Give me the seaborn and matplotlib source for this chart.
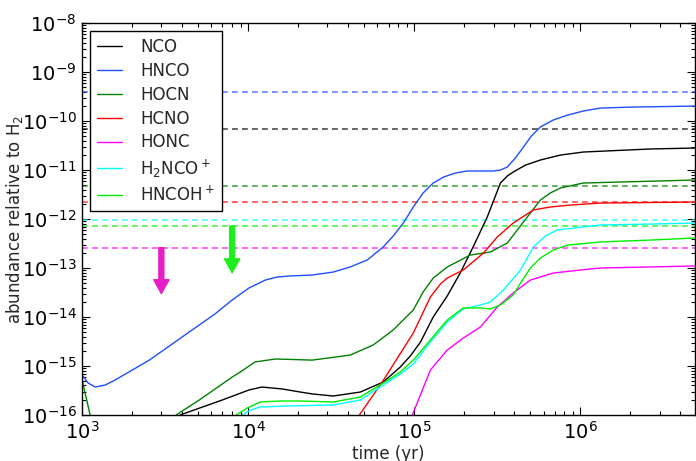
import matplotlib
matplotlib.use("Agg")
import matplotlib.pyplot as plt
import matplotlib.ticker as mticker
import pandas as pd
import seaborn as sns

# model abundances (time in yr, abundance relative to H2)
nco_t = [3.89e3, 6.97e3, 1.01e4, 1.21e4, 1.60e4, 2.06e4, 2.43e4, 3.25e4, 4.73e4, 6.50e4,
         8.24e4, 9.46e4, 1.09e5, 1.30e5, 1.58e5, 1.89e5, 2.26e5, 2.75e5, 3.30e5, 3.63e5,
         3.94e5, 4.67e5, 5.74e5, 7.59e5, 1.04e6, 2.64e6, 4.86e6]
nco_x = [1.0e-16, 2.02e-16, 3.24e-16, 3.72e-16, 3.40e-16, 2.94e-16, 2.69e-16, 2.44e-16,
         2.94e-16, 4.71e-16, 9.55e-16, 1.60e-15, 3.09e-15, 1.0e-14, 2.7e-14, 7.9e-14,
         2.69e-13, 1.10e-12, 5.43e-12, 7.55e-12, 9.10e-12, 1.26e-11, 1.60e-11, 2.02e-11,
         2.33e-11, 2.69e-11, 2.81e-11]

hnco_t = [1.00e3, 1.086e3, 1.20e3, 1.377e3, 1.58e3, 2.54e3, 4.0e3, 6.3e3, 8.0e3, 1.01e4,
          1.132e4, 1.27e4, 1.496e4, 1.77e4, 2.43e4, 3.25e4, 4.11e4, 5.21e4, 6.50e4, 7.46e4,
          8.59e4, 9.86e4, 1.13e5, 1.30e5, 1.50e5, 1.766e5, 2.08e5, 2.99e5, 3.30e5, 3.63e5,
          4.06e5, 4.54e5, 5.07e5, 5.74e5, 6.87e5, 8.36e5, 1.04e6, 1.32e6, 2.08e6, 4.86e6]
hnco_x = [6.55e-16, 4.50e-16, 3.72e-16, 4.09e-16, 5.18e-16, 1.32e-15, 3.91e-15, 1.15e-14,
          2.22e-14, 3.91e-14, 4.71e-14, 5.69e-14, 6.55e-14, 6.87e-14, 7.19e-14, 8.28e-14,
          1.05e-13, 1.46e-13, 2.69e-13, 4.50e-13, 8.28e-13, 1.76e-12, 3.40e-12, 5.43e-12,
          7.19e-12, 8.69e-12, 9.55e-12, 9.55e-12, 1.0e-11, 1.15e-11, 1.76e-11, 2.94e-11,
          4.94e-11, 7.55e-11, 1.05e-10, 1.32e-10, 1.60e-10, 1.84e-10, 1.93e-10, 2.02e-10]

hocn_early_t = [1.00e3, 1.117e3]
hocn_early_x = [5.2e-16, 1.0e-16]
hocn_t = [3.68e3, 5.07e3, 8.02e3, 8.96e3, 1.10e4, 1.46e4, 2.43e4, 4.11e4, 5.66e4, 7.46e4,
          9.86e4, 1.13e5, 1.30e5, 1.58e5, 2.17e5, 2.87e5, 3.63e5, 4.54e5, 5.74e5, 6.59e5,
          7.59e5, 1.04e6, 1.74e6, 4.86e6]
hocn_x = [1.0e-16, 2.02e-16, 5.97e-16, 7.55e-16, 1.21e-15, 1.39e-15, 1.32e-15, 1.67e-15,
          2.69e-15, 5.43e-15, 1.39e-14, 3.24e-14, 6.25e-14, 1.05e-13, 1.84e-13, 2.12e-13,
          3.24e-13, 8.69e-13, 2.44e-12, 3.40e-12, 4.30e-12, 5.43e-12, 5.69e-12, 6.25e-12]

hcno_t = [4.67e4, 6.41e4, 9.86e4, 1.25e5, 1.435e5, 1.58e5, 1.97e5, 2.61e5, 3.16e5, 3.94e5,
          5.21e5, 6.59e5, 8.71e5, 1.32e6, 4.86e6]
hcno_x = [1.0e-16, 4.71e-16, 4.71e-15, 2.56e-14, 4.71e-14, 6.25e-14, 9.10e-14, 2.02e-13,
          4.30e-13, 8.28e-13, 1.53e-12, 1.76e-12, 1.93e-12, 2.12e-12, 2.22e-12]

honc_t = [9.73e4, 1.25e5, 1.58e5, 1.97e5, 2.50e5, 3.16e5, 3.94e5, 5.00e5, 6.87e5, 1.0e6,
          1.32e6, 4.86e6]
honc_x = [1.0e-16, 8.28e-16, 2.12e-15, 3.72e-15, 6.25e-15, 1.60e-14, 3.09e-14, 5.69e-14,
          7.9e-14, 9.1e-14, 1.0e-13, 1.10e-13]

h2nco_t = [9.20e3, 1.03e4, 1.18e4, 1.79e4, 3.25e4, 4.73e4, 6.50e4, 8.24e4, 9.86e4, 1.25e5,
           1.58e5, 1.97e5, 2.50e5, 2.87e5, 3.44e5, 4.36e5, 5.21e5, 6.15e5, 7.26e5, 1.32e6,
           2.64e6, 4.86e6]
h2nco_x = [1.0e-16, 1.26e-16, 1.46e-16, 1.53e-16, 1.60e-16, 2.02e-16, 4.09e-16, 6.87e-16,
           1.10e-15, 3.09e-15, 7.9e-15, 1.46e-14, 1.76e-14, 2.02e-14, 3.56e-14, 9.10e-14,
           2.69e-13, 4.50e-13, 5.97e-13, 7.55e-13, 7.9e-13, 8.28e-13]

hncoh_t = [8.47e3, 9.86e3, 1.18e4, 1.56e4, 2.06e4, 3.25e4, 4.73e4, 6.50e4, 8.24e4, 9.86e4,
           1.25e5, 1.58e5, 1.97e5, 2.50e5, 2.87e5, 3.30e5, 3.94e5, 4.36e5, 5.00e5, 5.74e5,
           6.87e5, 8.36e5, 1.32e6, 2.64e6, 4.86e6]
hncoh_x = [1.0e-16, 1.39e-16, 1.84e-16, 1.93e-16, 1.93e-16, 1.84e-16, 2.33e-16, 4.50e-16,
           7.55e-16, 1.32e-15, 3.40e-15, 8.69e-15, 1.53e-14, 1.53e-14, 1.46e-14, 1.76e-14,
           2.81e-14, 4.94e-14, 1.0e-13, 1.60e-13, 2.33e-13, 2.94e-13, 3.40e-13, 3.72e-13,
           4.09e-13]

# observed abundances (dashed) and upper limits (arrows)
species = ["NCO", "HNCO", "HOCN", "HCNO", "HONC", "H$_2$NCO$^+$", "HNCOH$^+$"]
observed = [7.0e-11, 4.0e-10, 4.8e-12, 2.2e-12, 2.6e-13, 9.5e-13, 7.2e-13]
limit_t = [3.0e3, 8.0e3]
limit_top = [2.6e-13, 7.2e-13]
limit_tip = [3.0e-14, 8.0e-14]

colors = ["black", "#1f4fff", "#008000", "#ff0000", "#ff00ff", "#00ffff", "#00ee00"]
arrow_colors = ["#e61ec8", "#1eee1e"]

series = [(nco_t, nco_x), (hnco_t, hnco_x), (hocn_t, hocn_x), (hcno_t, hcno_x),
          (honc_t, honc_x), (h2nco_t, h2nco_x), (hncoh_t, hncoh_x)]

sns.set_theme(style="ticks")
plt.rcParams["font.family"] = ["DejaVu Sans"]
plt.rcParams["mathtext.fontset"] = "dejavusans"

fig = plt.figure(figsize=(6.96, 4.61), dpi=100)
ax = fig.add_axes([0.118, 0.0998, 0.8806, 0.8502])
ax.set_xscale("log")
ax.set_yscale("log")

for name, (t, x), c in zip(species, series, colors):
    df = pd.DataFrame({"time": t, "abundance": x})
    sns.lineplot(data=df, x="time", y="abundance", color=c, lw=1.0, label=name,
                 estimator=None, sort=False, ax=ax)

early = pd.DataFrame({"time": hocn_early_t, "abundance": hocn_early_x})
sns.lineplot(data=early, x="time", y="abundance", color=colors[2], lw=1.0,
             estimator=None, sort=False, ax=ax, legend=False)

for val, c in zip(observed, colors):
    ax.axhline(val, color=c, lw=1.2, ls=(0, (3.5, 2.5)), alpha=0.7, zorder=1)

for t, top, tip, c in zip(limit_t, limit_top, limit_tip, arrow_colors):
    ax.annotate("", xy=(t, tip), xytext=(t, top),
                arrowprops=dict(facecolor=c, edgecolor=c, width=3.6, headwidth=11,
                                headlength=10, shrink=0))

ax.set_xlim(1e3, 4.9e6)
ax.set_ylim(1e-16, 1e-8)
ax.xaxis.set_major_locator(mticker.LogLocator(base=10, numticks=10))
ax.xaxis.set_minor_locator(mticker.LogLocator(base=10, subs=range(2, 10), numticks=20))
ax.yaxis.set_major_locator(mticker.LogLocator(base=10, numticks=20))
ax.yaxis.set_minor_locator(mticker.LogLocator(base=10, subs=range(2, 10), numticks=40))
ax.xaxis.set_minor_formatter(mticker.NullFormatter())
ax.yaxis.set_minor_formatter(mticker.NullFormatter())
ax.tick_params(which="both", direction="in", top=True, right=True, colors="black",
               labelsize=14, pad=4)
ax.tick_params(which="major", length=6, width=0.8)
ax.tick_params(which="minor", length=3, width=0.8)
for sp in ax.spines.values():
    sp.set_color("black")
    sp.set_linewidth(1.0)

ax.set_xlabel("time (yr)", fontsize=12)
ax.set_ylabel("abundance relative to H$_2$", fontsize=12)
ax.xaxis.set_label_coords(0.5, -0.077)
ax.yaxis.set_label_coords(-0.093, 0.5)

leg = ax.legend(loc="upper left", fontsize=12, frameon=True, fancybox=False,
                handlelength=1.5, handletextpad=1.1, labelspacing=0.35,
                borderpad=0.4, borderaxespad=0.5)
leg.get_frame().set_edgecolor("black")
leg.get_frame().set_linewidth(1.0)
leg.get_frame().set_alpha(1.0)

fig.savefig("out.png", dpi=100)
